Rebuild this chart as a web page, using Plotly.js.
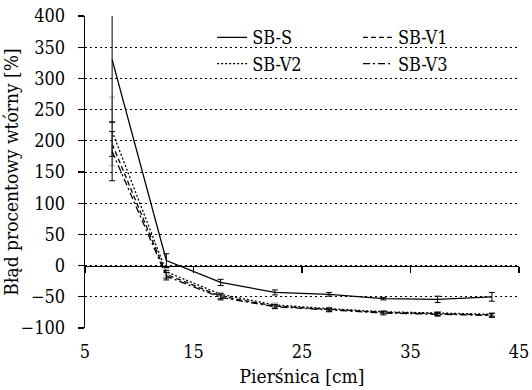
<!DOCTYPE html>
<html>
<head>
<meta charset="utf-8">
<script src="https://cdn.plot.ly/plotly-3.0.1.min.js"></script>
<style>html,body{margin:0;padding:0;background:#fff;}#chart{width:532px;height:390px;}</style>
</head>
<body>
<div id="chart"></div>
<script>
// Data
const diameter = [7.5, 12.5, 17.5, 22.5, 27.5, 32.5, 37.5, 42.5];
const sbS      = [330, 8, -27, -43, -46, -53, -54, -50];
const sbSErr   = [100, 11, 5, 4, 3, 2, 5, 7];
const sbV1     = [195, -14, -49, -65, -70, -75, -77, -79];
const sbV1Err  = [20, 6, 4, 3, 3, 2, 3, 3];
const sbV2     = [215, -10, -46, -63, -69, -74, -76, -78];
const sbV2Err  = [55, 5, 3, 3, 2, 2, 2, 2];
const sbV3     = [183, -17, -51, -66, -71, -76, -78, -80];
const sbV3Err  = [47, 6, 4, 3, 3, 3, 3, 3];
const seriesNames = ['SB-S', 'SB-V1', 'SB-V2', 'SB-V3'];
const xTitle = 'Pierśnica [cm]';
const yTitle = 'Błąd procentowy wtórny [%]';

const FONT = '"DejaVu Serif Condensed", "DejaVu Serif"';

function errSpec(arr, color) {
  return {type: 'data', array: arr, visible: true, color: color, thickness: 1, width: 3};
}

const traces = [
  {x: diameter, y: sbS, name: seriesNames[0], mode: 'lines', xaxis: 'x2', legend: 'legend',
   line: {color: '#000', width: 1.3, dash: 'solid'}, error_y: errSpec(sbSErr, '#000')},
  {x: diameter, y: sbV1, name: seriesNames[1], mode: 'lines', legend: 'legend2',
   line: {color: '#000', width: 1.3, dash: '5px,3px'}, error_y: errSpec(sbV1Err, '#000')},
  {x: diameter, y: sbV2, name: seriesNames[2], mode: 'lines', legend: 'legend',
   line: {color: '#000', width: 1.3, dash: '2px,2px'}, error_y: errSpec(sbV2Err, '#aaa')},
  {x: diameter, y: sbV3, name: seriesNames[3], mode: 'lines', legend: 'legend2',
   line: {color: '#000', width: 1.3, dash: '7px,3px,2px,3px'}, error_y: errSpec(sbV3Err, '#000')}
];

const layout = {
  width: 532, height: 390,
  margin: {l: 85, r: 13, t: 16, b: 62},
  paper_bgcolor: '#fff', plot_bgcolor: '#fff',
  font: {family: FONT, size: 18, color: '#000'},
  showlegend: true,
  xaxis: {
    range: [5, 45], tick0: 5, dtick: 10,
    showline: false, ticks: '', showgrid: false, zeroline: false,
    ticklabelstandoff: 11,
    title: {text: xTitle, font: {size: 19}, standoff: 8}
  },
  xaxis2: {
    matches: 'x', overlaying: 'x', anchor: 'free', position: 0.2,
    tick0: 5, dtick: 10,
    showline: true, linecolor: '#000', linewidth: 1.3,
    ticks: 'outside', ticklen: 6, tickcolor: '#000', tickwidth: 1.3,
    showticklabels: false, showgrid: false, zeroline: false
  },
  yaxis: {
    range: [-100, 400], tick0: -100, dtick: 50,
    showline: true, linecolor: '#000', linewidth: 1.3,
    ticks: 'outside', ticklen: 6, tickcolor: '#000', tickwidth: 1.3,
    ticklabelstandoff: 9,
    showgrid: true, gridcolor: '#000', gridwidth: 1, griddash: '2px,3px',
    zeroline: false,
    title: {text: yTitle, font: {size: 19}, standoff: 10}
  },
  legend: {
    x: 0.293, xanchor: 'left', y: 0.99, yanchor: 'top',
    bgcolor: 'rgba(0,0,0,0)', borderwidth: 0, tracegroupgap: 0,
    font: {size: 18}
  },
  legend2: {
    x: 0.629, xanchor: 'left', y: 0.99, yanchor: 'top',
    bgcolor: 'rgba(0,0,0,0)', borderwidth: 0, tracegroupgap: 0,
    font: {size: 18}
  },
  shapes: [{
    type: 'rect', xref: 'paper', yref: 'paper', layer: 'below',
    x0: 0.237, x1: 0.906, y0: 0.82, y1: 0.955,
    fillcolor: '#fff', line: {width: 0}
  }]
};

Plotly.newPlot('chart', traces, layout, {displayModeBar: false, staticPlot: true});
</script>
</body>
</html>
